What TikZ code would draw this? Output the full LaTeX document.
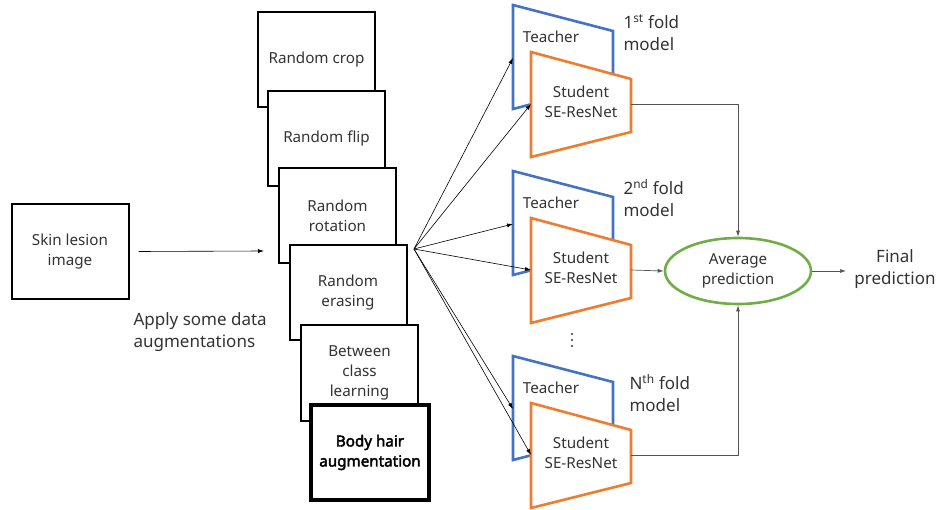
\documentclass[tikz,border=0pt]{standalone}
\usepackage{fontspec}
\setmainfont{Noto Sans}
\newfontfamily\boldfam{Noto Sans}[FakeBold=2.6]
\usetikzlibrary{arrows.meta,shapes.geometric}
\definecolor{tblue}{HTML}{4472C4}
\definecolor{sorange}{HTML}{ED7D31}
\definecolor{agreen}{HTML}{70AD47}
\definecolor{txt}{HTML}{333333}
\definecolor{lgray}{HTML}{555555}
\begin{document}
\begin{tikzpicture}[x=1pt,y=-1pt,
  every node/.style={text=txt, align=center},
  base/.style={font=\fontsize{15.2}{20}\selectfont},
  big/.style={font=\fontsize{17}{22}\selectfont},
  augbox/.style={base, draw=black, line width=2pt, fill=white, minimum width=117pt, minimum height=95pt, inner sep=0pt},
  boldbox/.style={augbox, line width=4pt, minimum width=118pt, font=\boldfam\fontsize{15.2}{20}\selectfont, text=black},
  teacher/.style={draw=tblue, line width=2.6pt, fill=white, line join=miter},
  student/.style={draw=sorange, line width=2.6pt, fill=white, line join=miter},
  arr/.style={draw=black, line width=0.6pt, -{Latex[length=6pt,width=4pt]}},
  garr/.style={draw=lgray, line width=0.7pt, -{Latex[length=6pt,width=4pt]}},
  avgnode/.style={base, ellipse, draw=agreen, line width=2.6pt, fill=white, minimum width=146pt, minimum height=66pt, inner sep=0pt}
]
\useasboundingbox (0,0) rectangle (939,510);

% input image
\node[augbox] (skin) at (70,251.5) {Skin lesion\\image};
\coordinate (augin) at (264,251);
\draw[arr] ([xshift=9pt]skin.east) -- (augin);
\node[big, anchor=west, align=left] (apply) at (130,332) {Apply some data\\augmentations};

% augmentation stack
\node[augbox] (b1) at (316.5,60) {Random crop};
\node[augbox] (b2) at (326.5,138.5) {Random flip};
\node[augbox] (b3) at (337.5,216) {Random\\rotation};
\node[augbox] (b4) at (348,292.5) {Random\\erasing};
\node[augbox] (b5) at (359.5,373) {Between\\class\\learning};
\node[boldbox] (b6) at (370,452.5) {Body hair\\augmentation};

\coordinate (fan) at (414,249);

% connection points
\coordinate (TinA) at (513,58);   \coordinate (SinA) at (531,104);  \coordinate (SoutA) at (631,104);
\coordinate (TinB) at (513,224);  \coordinate (SinB) at (531,270);  \coordinate (SoutB) at (631,270);
\coordinate (TinC) at (513,409);  \coordinate (SinC) at (531,455);  \coordinate (SoutC) at (631,455);

% teacher / student pairs
\foreach \d in {0,166,351}{
  \draw[teacher] (513,5+\d) -- (613,31+\d) -- (613,83+\d) -- (513,109+\d) -- cycle;
  \node[base] at (551,37+\d) {Teacher};
  \draw[student] (531,52+\d) -- (631,79+\d) -- (631,132+\d) -- (531,157+\d) -- cycle;
  \node[base] at (581,102+\d) {Student\\SE-ResNet};
}

\foreach \n in {A,B,C}{
  \draw[arr] (fan) -- (Tin\n);
  \draw[arr] (fan) -- (Sin\n);
}

% fold labels
\node[big, anchor=west, align=left] (L1) at (620,33) {1\textsuperscript{st} fold\\model};
\node[big, anchor=west, align=left] (L2) at (620,198) {2\textsuperscript{nd} fold\\model};
\node[big, anchor=west, align=left] (L3) at (626,393) {N\textsuperscript{th} fold\\model};

% vertical dots
\foreach \y in {334,340,346} \fill[txt] (572,\y) circle (1.1pt);

% average
\node[avgnode] (avg) at (738,271) {Average\\prediction};
\draw[garr] (SoutA) -| (avg.north);
\draw[garr] (SoutB) -- (avg.west);
\draw[garr] (SoutC) -| (avg.south);

\coordinate (finin) at (846,271);
\draw[garr] (avg.east) -- (finin);
\node[big] (final) at (895,269) {Final\\prediction};
\end{tikzpicture}
\end{document}
